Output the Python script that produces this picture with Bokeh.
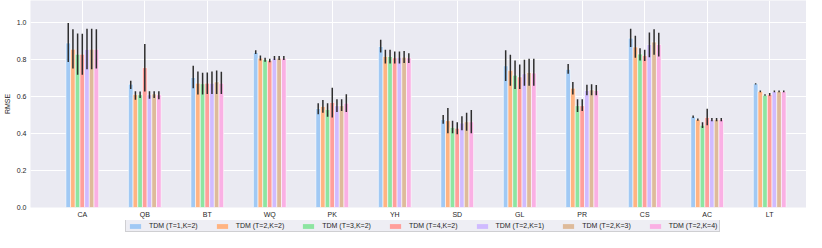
from bokeh.plotting import figure
from bokeh.layouts import column
from bokeh.models import Range1d, FixedTicker, Legend, LegendItem, ColumnDataSource
from bokeh.embed import file_html
from bokeh.resources import INLINE

categories = ["CA", "QB", "BT", "WQ", "PK", "YH", "SD", "GL", "PR", "CS", "AC", "LT"]
series_labels = ["TDM (T=1,K=2)", "TDM (T=2,K=2)", "TDM (T=3,K=2)", "TDM (T=4,K=2)",
                 "TDM (T=2,K=1)", "TDM (T=2,K=3)", "TDM (T=2,K=4)"]
colors = ["#a1c9f4", "#ffb482", "#8de5a1", "#ff9f9b", "#d0bbff", "#debb9b", "#fab0e4"]
y_ticks = [0.0, 0.2, 0.4, 0.6, 0.8, 1.0]

# mean RMSE per dataset
mean_t1k2 = [0.887, 0.665, 0.701, 0.836, 0.533, 0.868, 0.474, 0.764, 0.745, 0.913, 0.489, 0.667]
mean_t2k2 = [0.853, 0.609, 0.670, 0.805, 0.545, 0.814, 0.468, 0.738, 0.643, 0.865, 0.474, 0.626]
mean_t3k2 = [0.826, 0.608, 0.667, 0.797, 0.528, 0.814, 0.431, 0.713, 0.549, 0.827, 0.443, 0.605]
mean_t4k2 = [0.826, 0.754, 0.670, 0.793, 0.566, 0.807, 0.427, 0.704, 0.549, 0.819, 0.485, 0.609]
mean_t2k1 = [0.853, 0.608, 0.670, 0.805, 0.549, 0.810, 0.455, 0.721, 0.631, 0.879, 0.474, 0.626]
mean_t2k3 = [0.853, 0.612, 0.677, 0.805, 0.549, 0.810, 0.462, 0.728, 0.634, 0.892, 0.474, 0.626]
mean_t2k4 = [0.853, 0.608, 0.670, 0.805, 0.562, 0.807, 0.462, 0.725, 0.631, 0.879, 0.474, 0.626]

# error bar bounds
lo_t1k2 = [0.785, 0.639, 0.643, 0.827, 0.503, 0.836, 0.451, 0.682, 0.721, 0.865, 0.482, 0.663]
hi_t1k2 = [0.995, 0.684, 0.764, 0.848, 0.562, 0.904, 0.499, 0.848, 0.773, 0.964, 0.496, 0.670]
lo_t2k2 = [0.749, 0.581, 0.609, 0.793, 0.511, 0.776, 0.400, 0.656, 0.609, 0.807, 0.468, 0.622]
hi_t2k2 = [0.961, 0.627, 0.733, 0.819, 0.579, 0.850, 0.537, 0.824, 0.677, 0.926, 0.480, 0.631]
lo_t3k2 = [0.716, 0.591, 0.609, 0.786, 0.489, 0.776, 0.400, 0.639, 0.515, 0.793, 0.429, 0.602]
hi_t3k2 = [0.938, 0.626, 0.726, 0.807, 0.562, 0.850, 0.468, 0.793, 0.583, 0.858, 0.460, 0.610]
lo_t4k2 = [0.716, 0.626, 0.612, 0.783, 0.485, 0.776, 0.395, 0.639, 0.520, 0.790, 0.443, 0.602]
hi_t4k2 = [0.937, 0.882, 0.728, 0.802, 0.646, 0.841, 0.460, 0.771, 0.583, 0.850, 0.533, 0.617]
lo_t2k1 = [0.745, 0.586, 0.612, 0.795, 0.515, 0.776, 0.417, 0.656, 0.605, 0.810, 0.465, 0.622]
hi_t2k1 = [0.964, 0.627, 0.733, 0.817, 0.583, 0.841, 0.492, 0.797, 0.662, 0.944, 0.482, 0.631]
lo_t2k3 = [0.745, 0.591, 0.612, 0.795, 0.520, 0.779, 0.414, 0.656, 0.605, 0.824, 0.465, 0.622]
hi_t2k3 = [0.964, 0.627, 0.738, 0.817, 0.583, 0.844, 0.511, 0.802, 0.665, 0.961, 0.482, 0.631]
lo_t2k4 = [0.749, 0.583, 0.612, 0.795, 0.515, 0.779, 0.400, 0.656, 0.605, 0.814, 0.465, 0.622]
hi_t2k4 = [0.961, 0.627, 0.732, 0.817, 0.610, 0.831, 0.525, 0.802, 0.660, 0.942, 0.482, 0.631]

means = [mean_t1k2, mean_t2k2, mean_t3k2, mean_t4k2, mean_t2k1, mean_t2k3, mean_t2k4]
lows = [lo_t1k2, lo_t2k2, lo_t3k2, lo_t4k2, lo_t2k1, lo_t2k3, lo_t2k4]
highs = [hi_t1k2, hi_t2k2, hi_t3k2, hi_t4k2, hi_t2k1, hi_t2k3, hi_t2k4]

FONT = "Liberation Sans"
TXT = "#262626"
bar_w = 0.075

p = figure(width=806, height=220, output_backend="svg", toolbar_location=None,
           x_range=Range1d(-0.829, 11.589), y_range=Range1d(0, 1.116),
           min_border_left=27, min_border_right=0, min_border_top=0, min_border_bottom=12)
p.background_fill_color = "#EAEAF2"
p.border_fill_color = "white"
p.outline_line_color = None
p.grid.grid_line_color = "white"
p.grid.grid_line_width = 1

p.xaxis.ticker = FixedTicker(ticks=list(range(len(categories))))
p.xaxis.major_label_overrides = {i: c for i, c in enumerate(categories)}
p.yaxis.ticker = FixedTicker(ticks=y_ticks)
p.yaxis.major_label_overrides = {t: f"{t:.1f}" for t in y_ticks}
p.yaxis.axis_label = "RMSE"
for ax in (p.xaxis[0], p.yaxis[0]):
    ax.axis_line_color = None
    ax.major_tick_line_color = None
    ax.minor_tick_line_color = None
    ax.major_tick_out = 0
    ax.major_tick_in = 0
    ax.major_label_text_font = FONT
    ax.major_label_text_font_size = "7px"
    ax.major_label_text_color = TXT
p.xaxis.major_label_standoff = 3
p.yaxis.major_label_standoff = 4
p.yaxis.axis_label_text_font = FONT
p.yaxis.axis_label_text_font_size = "7px"
p.yaxis.axis_label_text_font_style = "normal"
p.yaxis.axis_label_text_color = TXT
p.yaxis.axis_label_standoff = 3

n = len(means)
for i in range(n):
    xs = [j + (i - (n - 1) / 2) * bar_w for j in range(len(categories))]
    src = ColumnDataSource(dict(x=xs, top=means[i], lo=lows[i], hi=highs[i]))
    p.vbar(x="x", top="top", bottom=0, width=bar_w, source=src,
           fill_color=colors[i], line_color="white", line_width=0.6)
    p.segment(x0="x", y0="lo", x1="x", y1="hi", source=src,
              line_color="#2e2e2e", line_width=1.5)

# legend strip below the axis
lg = figure(width=806, height=12, output_backend="svg", toolbar_location=None,
            x_range=Range1d(0, 1), y_range=Range1d(0, 1),
            x_axis_location=None, y_axis_location=None,
            min_border_left=0, min_border_right=0, min_border_top=0, min_border_bottom=0)
lg.outline_line_color = None
lg.background_fill_color = "white"
lg.grid.visible = False
items = []
for i in range(n):
    r = lg.vbar(x="x", top="top", bottom="bottom", width=0.1,
                source=ColumnDataSource(dict(x=[5.0], top=[6.0], bottom=[5.0])),
                fill_color=colors[i], line_color=None)
    items.append(LegendItem(label=series_labels[i], renderers=[r]))
legend = Legend(items=items, orientation="horizontal", location=(95, 0),
                label_text_font=FONT, label_text_font_size="7px", label_text_color=TXT,
                glyph_width=14, glyph_height=6, label_height=6, label_standoff=7,
                spacing=17, padding=2, margin=0,
                background_fill_color="#EEEEF4", background_fill_alpha=1.0,
                border_line_color="#b0b0b0", border_line_width=1)
lg.add_layout(legend, "center")

layout = column(p, lg, spacing=0)
open("out.html", "w").write(file_html(layout, INLINE))
